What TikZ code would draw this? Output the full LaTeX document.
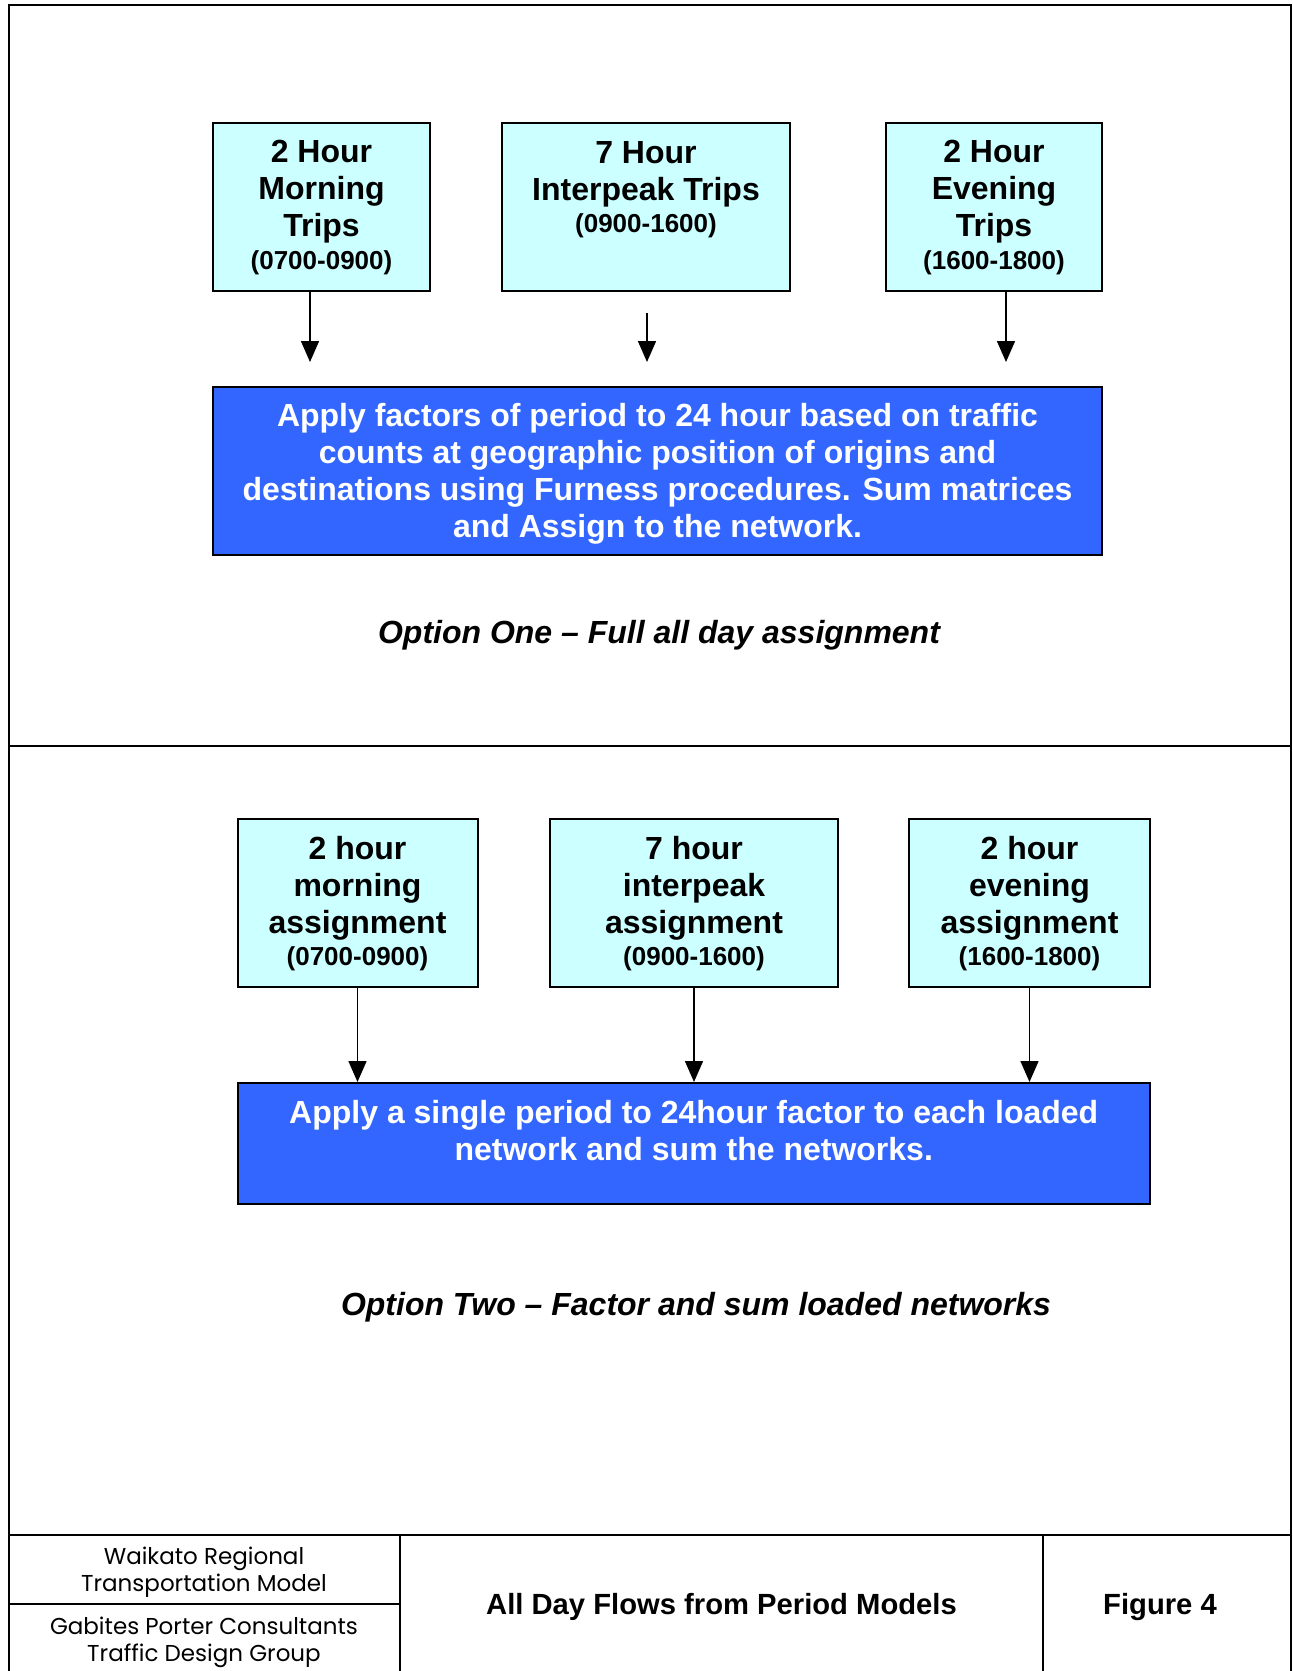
\documentclass[tikz,border=0pt]{standalone}
\usepackage{fontspec}
\setmainfont{Liberation Sans}
\newfontfamily\gothic{Poppins}
\usetikzlibrary{arrows.meta}
\definecolor{paleaqua}{HTML}{CCFFFF}
\definecolor{brightblue}{HTML}{3366FF}
\newcommand{\timespan}[1]{{\fontsize{13}{16}\selectfont #1}}

\begin{document}
\begin{tikzpicture}[x=0.5pt,y=-0.5pt,
  frameline/.style={line width=1pt},
  period/.style={draw, line width=1pt, fill=paleaqua, inner sep=0pt, text depth=1.7pt,
    align=center, font=\bfseries\fontsize{16}{18.4}\selectfont},
  process/.style={draw, line width=1pt, fill=brightblue, inner sep=0pt,
    align=center, text=white, font=\bfseries\fontsize{16}{18.6}\selectfont},
  boxtext/.style={inner sep=0pt, align=center, font=\bfseries\fontsize{16}{18.4}\selectfont},
  caption/.style={inner sep=0pt, font=\bfseries\itshape\fontsize{16}{18.4}\selectfont},
  flow/.style={line width=0.75pt, -{Triangle[width=9pt,length=10.5pt]}},
  footer/.style={inner sep=0pt, align=center, font=\gothic\fontsize{11.5}{13.3}\selectfont},
  heading/.style={inner sep=0pt, font=\bfseries\fontsize{14.6}{17}\selectfont}
]
\useasboundingbox (0,0) rectangle (1293,1671);

% page frame and title block
\draw[frameline] (8.5,1671) -- (8.5,4.5) -- (1291,4.5) -- (1291,1671);
\draw[frameline] (8.5,746) -- (1291,746);
\draw[frameline] (8.5,1535) -- (1291,1535);
\draw[frameline] (8.5,1604) -- (400,1604);
\draw[frameline] (400,1535) -- (400,1671);
\draw[frameline] (1043,1535) -- (1043,1671);

% ---- Option One ----
\node[period, minimum width=108.5pt, minimum height=84pt] (am) at (321.5,206.5)
  {2 Hour\\Morning\\Trips\\[-2.1pt]\timespan{(0700-0900)}};
\node[period, minimum width=144pt, minimum height=84pt] (ip) at (646,206.5) {};
\node[boxtext, anchor=north] (iptext) at (646,141)
  {7 Hour\\Interpeak Trips\\[-2.2pt]\timespan{(0900-1600)}};
\node[period, minimum width=108pt, minimum height=84pt] (pm) at (994,206.5)
  {2 Hour\\Evening\\Trips\\[-2.1pt]\timespan{(1600-1800)}};

\node[process, text depth=0.7pt, minimum width=444.5pt, minimum height=84pt] (furness) at (657.5,471)
  {Apply factors of period to 24 hour based on traffic\\
   counts at geographic position of origins and\\
   destinations using Furness procedures. Sum matrices\\
   and Assign to the network.};

\coordinate (amend) at (310,362);
\coordinate (ipstart) at (647,313);
\coordinate (ipend) at (647,362);
\coordinate (pmend) at (1006,362);
\draw[flow] (am.south -| amend) -- (amend);
\draw[flow] (ipstart) -- (ipend);
\draw[flow] (pm.south -| pmend) -- (pmend);

\node[caption] (optone) at (659,635) {Option One -- Full all day assignment};

% ---- Option Two ----
\node[period, minimum width=120pt, minimum height=84.25pt] (amload) at (357.5,902.75)
  {2 hour\\morning\\assignment\\[-2.1pt]\timespan{(0700-0900)}};
\node[period, minimum width=144pt, minimum height=84.25pt] (ipload) at (694,902.75)
  {7 hour\\interpeak\\assignment\\[-2.1pt]\timespan{(0900-1600)}};
\node[period, minimum width=120.5pt, minimum height=84.25pt] (pmload) at (1029.5,902.75)
  {2 hour\\evening\\assignment\\[-2.1pt]\timespan{(1600-1800)}};

\node[process, minimum width=456.25pt, minimum height=60.25pt] (factor) at (693.75,1143.25) {};
\node[boxtext, text=white, anchor=north] (factortext) at (693.75,1100)
  {Apply a single period to 24hour factor to each loaded\\
   network and sum the networks.};

\draw[flow] (amload.south) -- (amload.south |- factor.north);
\draw[flow] (ipload.south) -- (ipload.south |- factor.north);
\draw[flow] (pmload.south) -- (pmload.south |- factor.north);

\node[caption] (opttwo) at (696,1307) {Option Two -- Factor and sum loaded networks};

% ---- title block ----
\node[footer] (client) at (204,1572.2) {Waikato Regional\\Transportation Model};
\node[footer] (consult) at (204,1642.5) {Gabites Porter Consultants\\Traffic Design Group};
\node[heading] (title) at (721.5,1607) {All Day Flows from Period Models};
\node[heading] (fignum) at (1160,1607) {Figure 4};
\end{tikzpicture}
\end{document}
